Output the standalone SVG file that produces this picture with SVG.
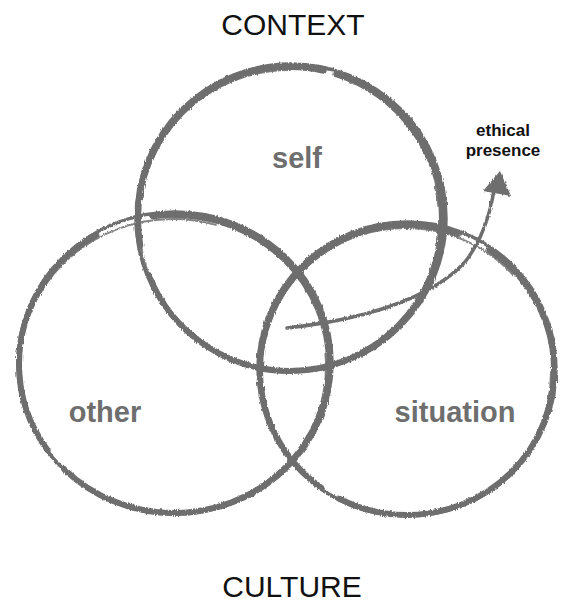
<svg xmlns="http://www.w3.org/2000/svg" width="567" height="604" viewBox="0 0 567 604">
  <defs>
    <filter id="brush" x="-10%" y="-10%" width="120%" height="120%">
      <feTurbulence type="fractalNoise" baseFrequency="0.9 0.15" numOctaves="2" seed="3" result="n"/>
      <feDisplacementMap in="SourceGraphic" in2="n" scale="3" xChannelSelector="R" yChannelSelector="G"/>
    </filter>
  </defs>
  <style>
    .ring { fill: none; stroke: #6e6e6e; stroke-linecap: round; }
    .thin { stroke-width: 2; opacity: 0.85; }
    .mid { stroke-width: 3.5; }
    .thick { stroke-width: 6; }
    .label { font-family: "Liberation Sans", Arial, sans-serif; fill: #6e6e6e; font-size: 29px; font-weight: bold; text-anchor: middle; }
    .title { font-family: "Liberation Sans", Arial, sans-serif; fill: #111; font-size: 30px; text-anchor: middle; }
    .note { font-family: "Liberation Sans", Arial, sans-serif; fill: #111; font-size: 17px; font-weight: bold; text-anchor: middle; }
  </style>

  <text class="title" x="293" y="35">CONTEXT</text>
  <text class="title" x="292" y="597">CULTURE</text>

  <!-- each ring is a few offset brush passes -->
  <g id="self">
    <g filter="url(#brush)">
      <ellipse class="ring thick" cx="290" cy="219" rx="152" ry="152" stroke-dasharray="420 30 300 12 500"/>
      <ellipse class="ring mid" cx="291" cy="218" rx="155" ry="154"/>
      <ellipse class="ring thin" cx="289" cy="221" rx="150" ry="151" stroke-dasharray="200 20 150 40 300"/>
    </g>
    <text class="label" x="297" y="168">self</text>
  </g>

  <g id="other">
    <g filter="url(#brush)">
      <ellipse class="ring thick" cx="174" cy="364" rx="155" ry="149" stroke-dasharray="360 25 250 60 400"/>
      <ellipse class="ring mid" cx="175" cy="363" rx="157" ry="151"/>
      <ellipse class="ring thin" cx="173" cy="366" rx="153" ry="147" stroke-dasharray="180 30 220 20 300"/>
    </g>
    <text class="label" x="105" y="422">other</text>
  </g>

  <g id="situation">
    <g filter="url(#brush)">
      <ellipse class="ring thick" cx="407" cy="370" rx="147" ry="145" stroke-dasharray="300 20 420 35 300"/>
      <ellipse class="ring mid" cx="407" cy="369" rx="149" ry="147"/>
      <ellipse class="ring thin" cx="406" cy="372" rx="145" ry="144" stroke-dasharray="250 30 180 40 300"/>
    </g>
    <text class="label" x="455" y="422">situation</text>
  </g>

  <g id="connectors">
    <path d="M287,328 C360,320 430,300 465,262 C482,240 490,215 494,190" fill="none" stroke="#6e6e6e" stroke-width="3.5" stroke-linecap="round" filter="url(#brush)"/>
    <polygon points="500,171 483,191 511,196" fill="#6e6e6e" filter="url(#brush)"/>
  </g>

  <g id="ethical-presence">
    <text class="note" x="503" y="136">ethical</text>
    <text class="note" x="503" y="156">presence</text>
  </g>
</svg>
